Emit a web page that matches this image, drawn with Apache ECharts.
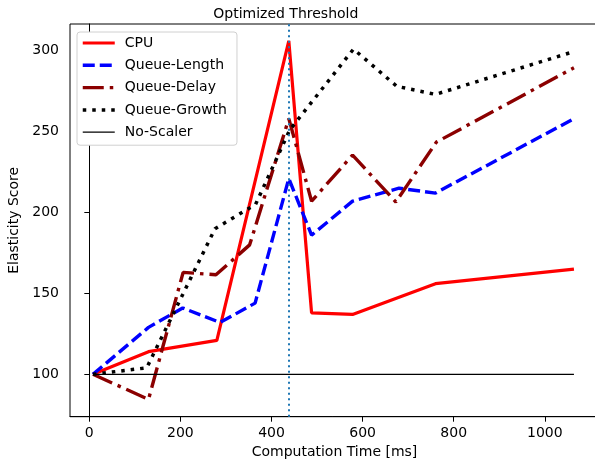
<!DOCTYPE html>
<html>
<head>
<meta charset="utf-8">
<script src="https://cdn.jsdelivr.net/npm/echarts@6/dist/echarts.min.js"></script>
<style>
  html, body { margin: 0; padding: 0; background: #fff; }
  #chart { width: 595px; height: 468px; }
</style>
</head>
<body>
<div id="chart"></div>
<script>
// Elasticity score per scaler vs. computation time (ms)
const cpuX = [8, 130, 280, 438, 488, 578, 760, 1064];
const cpuY = [100, 114, 121, 306, 138, 137, 156, 165];

const lengthX = [8, 130, 205, 287, 364, 438, 488, 578, 680, 760, 1064];
const lengthY = [100, 129, 141, 132, 144, 221, 186, 207, 215, 212, 258];

const delayX = [8, 130, 206, 278, 352, 438, 488, 578, 673, 762, 1064];
const delayY = [100, 84.5, 163, 161.5, 180, 258, 207, 235.5, 206.5, 243.5, 289.5];

const growthX = [8, 126, 276, 365, 440, 580, 675, 760, 1064];
const growthY = [100, 104, 190, 205, 251, 301, 278, 273, 299.5];

const noScalerX = [8, 1064];
const noScalerY = [100, 100];

const threshold = 438;
const thresholdLabel = 'Optimized Threshold';

const xTicks = [0, 200, 400, 600, 800, 1000];
const yTicks = [100, 150, 200, 250, 300];

const FONT = 'DejaVu Sans';

// line styles shared by the series and their legend entries
const styles = {
  'CPU':          { color: '#ff0000', width: 3.2, type: 'solid' },
  'Queue-Length': { color: '#0000ff', width: 3.4, type: [12, 5], cap: 'butt' },
  'Queue-Delay':  { color: '#8b0000', width: 3.4, type: [21, 6, 3.5, 6], cap: 'butt' },
  'Queue-Growth': { color: '#000000', width: 3.5, type: [3.5, 6], cap: 'butt' },
  'No-Scaler':    { color: '#000000', width: 1.2, type: 'solid' }
};

function pairs(xs, ys) { return xs.map((x, i) => [x, ys[i]]); }

function lineSeries(name, xs, ys, extra) {
  return Object.assign({
    name: name, type: 'line', symbol: 'none', data: pairs(xs, ys),
    lineStyle: styles[name], itemStyle: { color: styles[name].color }
  }, extra || {});
}

const chart = echarts.init(document.getElementById('chart'), null, { renderer: 'canvas' });

const axisCommon = {
  axisLine: { show: true, lineStyle: { color: '#000', width: 1 } },
  axisTick: { show: true, inside: false, length: 5, lineStyle: { color: '#000', width: 1 } },
  splitLine: { show: false },
  nameTextStyle: { fontFamily: FONT, fontSize: 14, color: '#000' }
};

chart.setOption({
  animation: false,
  backgroundColor: '#fff',
  grid: {
    left: 70, top: 24, width: 529, height: 392.7,
    outerBoundsMode: 'none', containLabel: false,
    show: true, borderColor: '#000', borderWidth: 1, backgroundColor: 'transparent'
  },
  xAxis: Object.assign({}, axisCommon, {
    type: 'value', min: -42.4, max: 1119,
    name: 'Computation Time [ms]', nameLocation: 'middle', nameGap: 29,
    axisTick: Object.assign({}, axisCommon.axisTick, { customValues: xTicks }),
    axisLabel: {
      customValues: xTicks, margin: 10, fontFamily: FONT, fontSize: 14, color: '#000',
      formatter: v => String(v)
    }
  }),
  yAxis: Object.assign({}, axisCommon, {
    type: 'value', min: 73.8, max: 316.5,
    name: 'Elasticity Score', nameLocation: 'middle', nameGap: 47,
    axisTick: Object.assign({}, axisCommon.axisTick, { customValues: yTicks }),
    axisLabel: {
      customValues: yTicks, margin: 11, fontFamily: FONT, fontSize: 14, color: '#000',
      formatter: v => String(v)
    }
  }),
  legend: {
    orient: 'vertical', left: 77, top: 32,
    padding: [4, 10, 6, 4],
    itemWidth: 32, itemHeight: 14, itemGap: 8.3,
    itemStyle: { opacity: 0, borderWidth: 0 },
    backgroundColor: '#fff', borderColor: '#d0d0d0', borderWidth: 1, borderRadius: 3,
    textStyle: { fontFamily: FONT, fontSize: 14, color: '#000', padding: [0, 0, 0, 5] },
    data: Object.keys(styles).map(name => ({
      name: name,
      lineStyle: { color: styles[name].color, width: styles[name].width, type: styles[name].type, cap: 'butt' }
    }))
  },
  series: [
    lineSeries('CPU', cpuX, cpuY),
    lineSeries('Queue-Length', lengthX, lengthY),
    lineSeries('Queue-Delay', delayX, delayY),
    lineSeries('Queue-Growth', growthX, growthY),
    lineSeries('No-Scaler', noScalerX, noScalerY, {
      markLine: {
        silent: true, symbol: 'none', animation: false,
        lineStyle: { color: '#1f77b4', width: 2, type: [2, 3.5] },
        label: {
          show: true, position: 'end', distance: 3, offset: [-3, 0],
          formatter: thresholdLabel, fontFamily: FONT, fontSize: 14, color: '#000'
        },
        data: [{ xAxis: threshold }]
      }
    })
  ]
});
</script>
</body>
</html>
